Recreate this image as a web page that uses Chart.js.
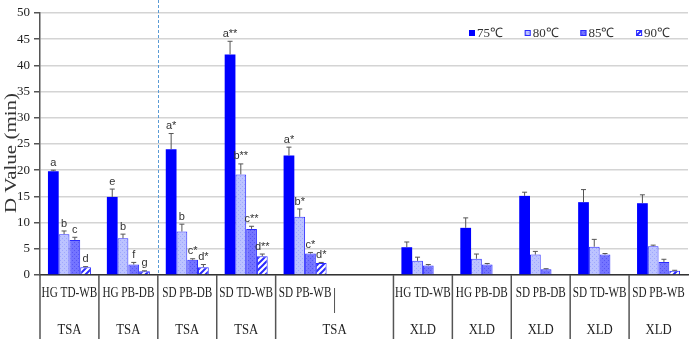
<!DOCTYPE html>
<html>
<head>
<meta charset="utf-8">
<script src="https://cdn.jsdelivr.net/npm/chart.js@4/dist/chart.umd.min.js"></script>
<style>
  html, body { margin: 0; padding: 0; background: #fff; }
  #wrap { width: 691px; height: 339px; position: relative; }
</style>
</head>
<body>
<div id="wrap"><canvas id="dChart"></canvas></div>
<script>
// categories (index 5 is the empty gap between the two media)
const strains = ['HG TD-WB', 'HG PB-DB', 'SD PB-DB', 'SD TD-WB', 'SD PB-WB', '',
                 'HG TD-WB', 'HG PB-DB', 'SD PB-DB', 'SD TD-WB', 'SD PB-WB'];
const media = ['TSA', 'TSA', 'TSA', 'TSA', 'TSA', '', 'XLD', 'XLD', 'XLD', 'XLD', 'XLD'];
const tempLabels = ['75\u2103', '80\u2103', '85\u2103', '90\u2103'];
const yTicks = [0, 5, 10, 15, 20, 25, 30, 35, 40, 45, 50];

// D values (min)
const d75 = [19.8, 14.9, 24.0, 42.1, 22.8, null, 5.3, 9.0, 15.1, 13.9, 13.7];
const d80 = [7.8, 7.0, 8.3, 19.2, 11.1, null, 2.7, 3.1, 3.9, 5.4, 5.5];
const d85 = [6.7, 2.0, 2.9, 8.8, 4.1, null, 1.8, 2.0, 1.1, 3.9, 2.5];
const d90 = [1.5, 0.7, 1.5, 3.6, 2.3, null, null, null, null, null, 0.8];

// upper error (SD)
const e75 = [0.2, 1.5, 3.0, 2.5, 1.6, null, 1.0, 1.9, 0.7, 2.4, 1.6];
const e80 = [0.6, 0.8, 1.4, 2.0, 1.5, null, 0.7, 0.9, 0.6, 1.4, 0.2];
const e85 = [0.5, 0.4, 0.2, 0.5, 0.2, null, 0.2, 0.2, 0.1, 0.2, 0.5];
const e90 = [0.1, 0.1, 0.5, 0.4, 0.1, null, null, null, null, null, 0.1];

// significance letters
const s75 = ['a', 'e', 'a*', 'a**', 'a*'];
const s80 = ['b', 'b', 'b', 'b**', 'b*'];
const s85 = ['c', 'f', 'c*', 'c**', 'c*'];
const s90 = ['d', 'g', 'd*', 'd**', 'd*'];

const serif = '"Liberation Serif", "Times New Roman", serif';
const sans = '"Liberation Sans", Arial, sans-serif';

function makePattern(draw, w, h) {
    const c = document.createElement('canvas');
    c.width = w; c.height = h;
    draw(c.getContext('2d'));
    return document.createElement('canvas').getContext('2d').createPattern(c, 'repeat');
}

const pat80 = makePattern(g => {
    g.fillStyle = '#bcc3ff'; g.fillRect(0, 0, 4, 4);
    g.fillStyle = '#9ea7ff'; g.fillRect(0, 0, 1, 1); g.fillRect(2, 2, 1, 1);
}, 4, 4);
const pat85 = makePattern(g => {
    g.fillStyle = '#7474ff'; g.fillRect(0, 0, 4, 4);
    g.fillStyle = '#5656f5'; g.fillRect(0, 0, 1, 1); g.fillRect(2, 2, 1, 1);
}, 4, 4);
const pat90 = makePattern(g => {
    g.fillStyle = '#ffffff'; g.fillRect(0, 0, 6, 6);
    g.strokeStyle = '#2a2aff'; g.lineWidth = 2;
    g.beginPath();
    g.moveTo(-1, 7); g.lineTo(7, -1);
    g.moveTo(-1, 1); g.lineTo(1, -1);
    g.moveTo(5, 7); g.lineTo(7, 5);
    g.stroke();
}, 6, 6);

const fills = ['#0000ff', pat80, pat85, pat90];
const errors = [e75, e80, e85, e90];
const letters = [s75, s80, s85, s90];

function squeezeText(ctx, text, x, y, sx) {
    ctx.save();
    ctx.translate(x, y);
    ctx.scale(sx, 1);
    ctx.fillText(text, 0, 0);
    ctx.restore();
}

// error bars, letters, dashed divider, legend, axis title and the two-row label table
const extrasPlugin = {
    id: 'extras',
    afterDatasetsDraw(chart) {
        const ctx = chart.ctx;
        const y = chart.scales.y;
        ctx.save();
        chart.data.datasets.forEach((ds, di) => {
            const meta = chart.getDatasetMeta(di);
            meta.data.forEach((bar, i) => {
                const v = ds.data[i];
                if (v == null) return;
                const err = errors[di][i];
                let top = bar.y;
                if (err) {
                    const ye = y.getPixelForValue(v + err);
                    ctx.strokeStyle = '#555';
                    ctx.lineWidth = 1;
                    ctx.beginPath();
                    ctx.moveTo(bar.x, bar.y);
                    ctx.lineTo(bar.x, ye);
                    ctx.moveTo(bar.x - 2.5, ye);
                    ctx.lineTo(bar.x + 2.5, ye);
                    ctx.stroke();
                    top = ye;
                }
                const txt = letters[di][i];
                if (txt) {
                    ctx.fillStyle = '#333';
                    ctx.font = '11px ' + sans;
                    ctx.textAlign = 'center';
                    ctx.textBaseline = 'bottom';
                    ctx.fillText(txt, bar.x, top - 2);
                }
            });
        });
        ctx.restore();
    },
    afterDraw(chart) {
        const ctx = chart.ctx;
        const x = chart.scales.x;
        const area = chart.chartArea;
        const half = (x.getPixelForValue(1) - x.getPixelForValue(0)) / 2;
        const edge = i => x.getPixelForValue(i) - half;
        ctx.save();

        // y axis title (the source image is squeezed sideways)
        ctx.save();
        ctx.translate(12, 153);
        ctx.rotate(-Math.PI / 2);
        ctx.scale(1, 0.75);
        ctx.font = '21px ' + serif;
        ctx.fillStyle = '#333';
        ctx.textAlign = 'center';
        ctx.textBaseline = 'middle';
        ctx.fillText('D Value (min)', 0, 0);
        ctx.restore();

        // dashed divider between HG and SD on TSA
        ctx.strokeStyle = '#5b9bd5';
        ctx.lineWidth = 1;
        ctx.setLineDash([3, 2]);
        ctx.beginPath();
        ctx.moveTo(Math.round(edge(2)) + 0.5, 0);
        ctx.lineTo(Math.round(edge(2)) + 0.5, area.bottom);
        ctx.stroke();
        ctx.setLineDash([]);

        // legend
        ctx.font = '13px ' + serif;
        ctx.textBaseline = 'middle';
        ctx.textAlign = 'left';
        tempLabels.forEach((lab, k) => {
            const lx = 469 + k * 55.7;
            const ly = 30;
            ctx.fillStyle = fills[k];
            ctx.fillRect(lx, ly, 6, 6);
            if (k > 0) {
                ctx.strokeStyle = '#2a2aff';
                ctx.lineWidth = 1;
                ctx.strokeRect(lx + 0.5, ly + 0.5, 5, 5);
            }
            ctx.fillStyle = '#333';
            ctx.fillText(lab, lx + 8, ly + 3.5);
        });

        // label table under the axis
        ctx.strokeStyle = '#555';
        for (let i = 0; i <= 10; i++) {
            const ex = edge(i);
            ctx.beginPath();
            if (i === 5) {
                ctx.lineWidth = 1;
                ctx.moveTo(ex, area.bottom + 13);
                ctx.lineTo(ex, area.bottom + 38);
            } else {
                ctx.lineWidth = 1.5;
                ctx.moveTo(ex, area.bottom);
                ctx.lineTo(ex, chart.height);
            }
            ctx.stroke();
        }
        ctx.fillStyle = '#222';
        ctx.textAlign = 'center';
        ctx.textBaseline = 'middle';
        ctx.font = '14px ' + serif;
        strains.forEach((s, i) => {
            if (s) squeezeText(ctx, s, x.getPixelForValue(i), area.bottom + 18, 0.8);
        });
        ctx.font = '15px ' + serif;
        media.forEach((m, i) => {
            if (!m) return;
            let cx = x.getPixelForValue(i);
            if (media[i + 1] === '') cx = edge(i + 1);
            squeezeText(ctx, m, cx, area.bottom + 55, 0.85);
        });
        ctx.restore();
    }
};

new Chart(document.getElementById('dChart'), {
    type: 'bar',
    data: {
        labels: strains,
        datasets: tempLabels.map((lab, k) => ({
            label: lab,
            data: [d75, d80, d85, d90][k],
            backgroundColor: fills[k],
            borderColor: k === 0 ? '#0000ff' : '#2a2aff',
            borderWidth: k === 0 ? 0 : 1,
            borderSkipped: 'start',
            barPercentage: 1,
            categoryPercentage: 0.73
        }))
    },
    options: {
        responsive: true,
        maintainAspectRatio: false,
        animation: false,
        layout: { padding: { top: 13, right: 3, left: 0, bottom: 0 } },
        plugins: {
            legend: { display: false },
            tooltip: { enabled: false }
        },
        scales: {
            x: {
                grid: { display: false },
                ticks: { display: false },
                border: { color: '#333', width: 1.5 },
                afterFit: s => { s.height = 64; }
            },
            y: {
                min: 0,
                max: 50,
                afterBuildTicks: s => { s.ticks = yTicks.map(v => ({ value: v })); },
                grid: { color: '#d4d4d4', lineWidth: 1.5, tickLength: 6, tickColor: '#555' },
                border: { color: '#555', width: 1.5 },
                ticks: { font: { family: serif, size: 13 }, color: '#222', padding: 4 },
                afterFit: s => { s.width = 40; }
            }
        }
    },
    plugins: [extrasPlugin]
});
</script>
</body>
</html>
